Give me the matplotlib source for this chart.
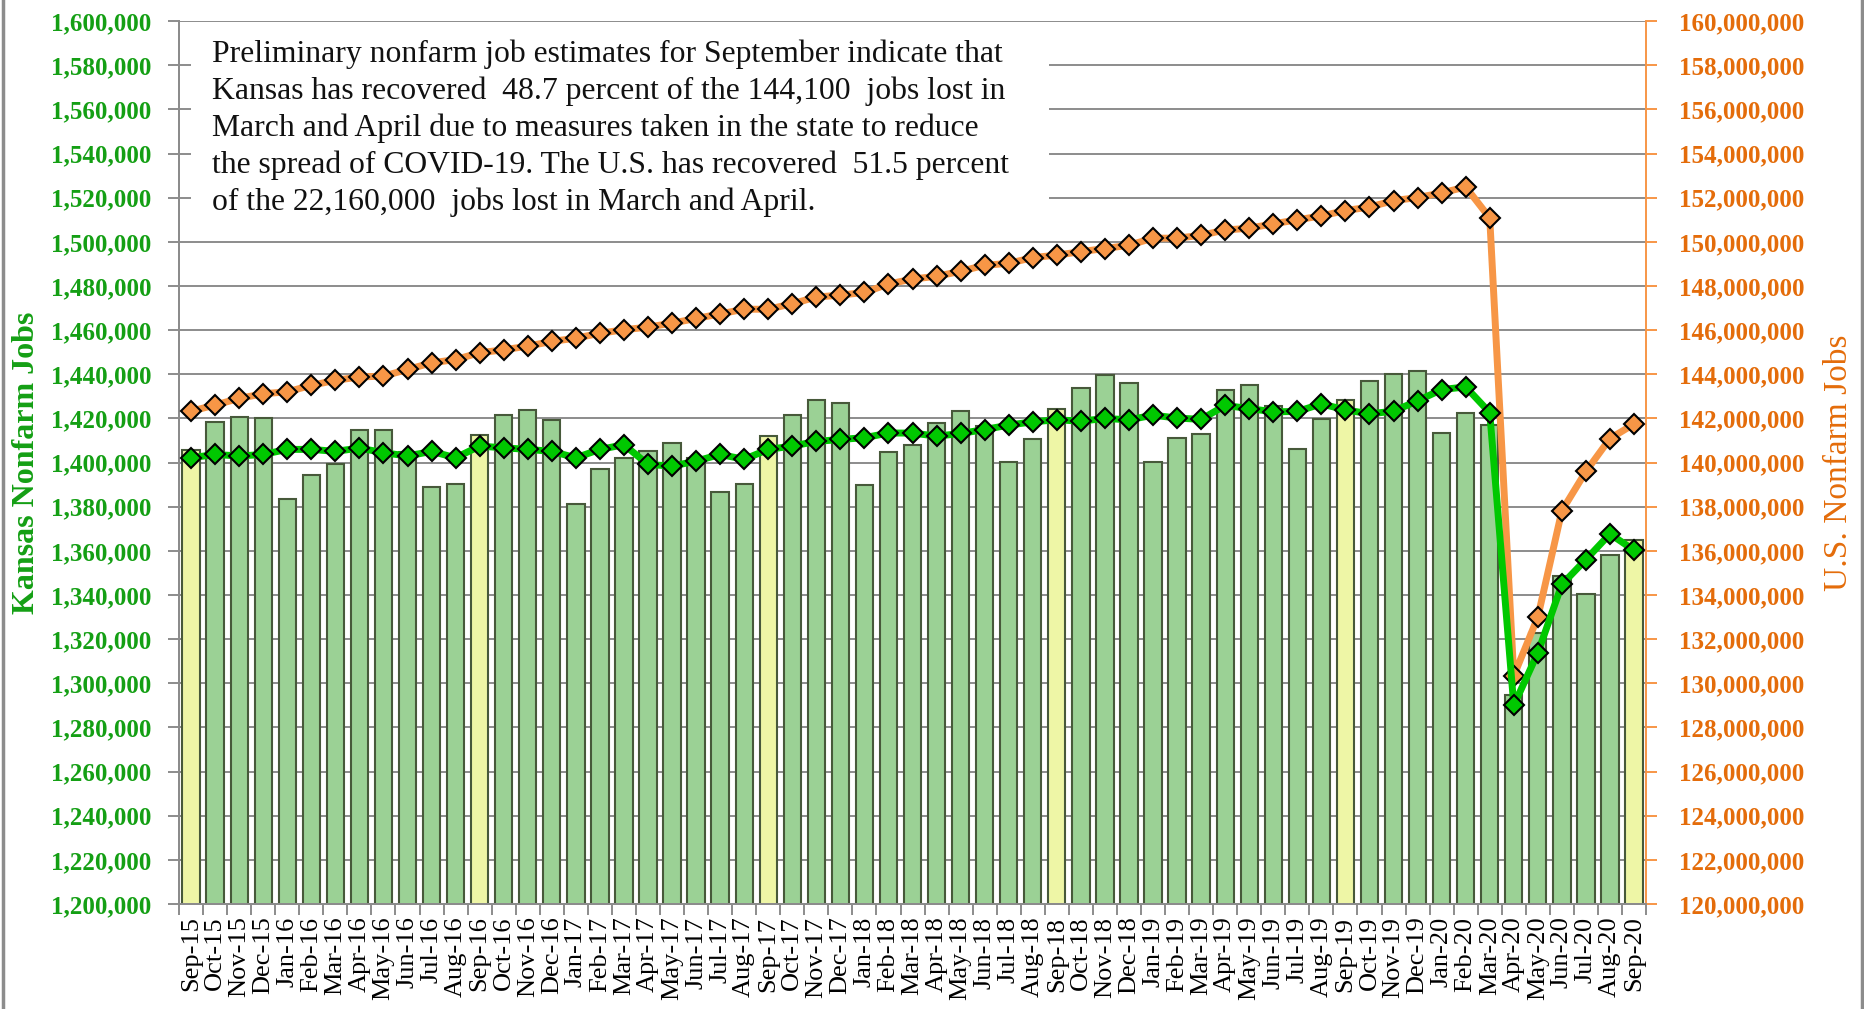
import matplotlib
matplotlib.use('Agg')
import matplotlib.pyplot as plt
from matplotlib.patches import Rectangle
from matplotlib.lines import Line2D
from matplotlib.ticker import FuncFormatter, MultipleLocator
import numpy as np

# months Sep-15 .. Sep-20
months = ['Sep-15', 'Oct-15', 'Nov-15', 'Dec-15',
          'Jan-16', 'Feb-16', 'Mar-16', 'Apr-16', 'May-16', 'Jun-16',
          'Jul-16', 'Aug-16', 'Sep-16', 'Oct-16', 'Nov-16', 'Dec-16',
          'Jan-17', 'Feb-17', 'Mar-17', 'Apr-17', 'May-17', 'Jun-17',
          'Jul-17', 'Aug-17', 'Sep-17', 'Oct-17', 'Nov-17', 'Dec-17',
          'Jan-18', 'Feb-18', 'Mar-18', 'Apr-18', 'May-18', 'Jun-18',
          'Jul-18', 'Aug-18', 'Sep-18', 'Oct-18', 'Nov-18', 'Dec-18',
          'Jan-19', 'Feb-19', 'Mar-19', 'Apr-19', 'May-19', 'Jun-19',
          'Jul-19', 'Aug-19', 'Sep-19', 'Oct-19', 'Nov-19', 'Dec-19',
          'Jan-20', 'Feb-20', 'Mar-20', 'Apr-20', 'May-20', 'Jun-20',
          'Jul-20', 'Aug-20', 'Sep-20']

# Kansas nonfarm jobs, not seasonally adjusted (bars)
kansas_nsa = [1405900, 1418600, 1420700, 1420100,
              1383400, 1394200, 1399600, 1415000, 1415000, 1404800,
              1389000, 1390500, 1412700, 1421600, 1423900, 1419500,
              1381300, 1397200, 1402300, 1405300, 1408900, 1402300,
              1386800, 1390500, 1412000, 1421800, 1428600, 1427100,
              1389800, 1404800, 1407800, 1418000, 1423300, 1416800,
              1400200, 1410800, 1424100, 1433600, 1439600, 1435900,
              1400200, 1411300, 1412800, 1432800, 1435000, 1425600,
              1406300, 1419600, 1428200, 1437200, 1440000, 1441300,
              1413200, 1422700, 1417000, 1294800, 1323000, 1348500,
              1340500, 1358000, 1364800]

# Kansas nonfarm jobs, seasonally adjusted (green line)
kansas_sa = [1402200, 1403700, 1403000, 1403700,
             1406000, 1406000, 1405100, 1406600, 1404500, 1403000,
             1405100, 1402200, 1407500, 1406700, 1406000, 1405100,
             1402200, 1406000, 1408100, 1399200, 1398400, 1400700,
             1403700, 1401500, 1406000, 1407500, 1409600, 1410500,
             1411300, 1413400, 1413400, 1412000, 1413200, 1415000,
             1417000, 1418500, 1419400, 1418800, 1420000, 1419400,
             1421500, 1420200, 1419600, 1425900, 1424500, 1423000,
             1423200, 1426600, 1423900, 1422100, 1423300, 1428000,
             1433100, 1434300, 1422700, 1290000, 1313800, 1344800,
             1356100, 1367700, 1360300]

# U.S. nonfarm jobs (orange line)
us_jobs = [142330000, 142610000, 142910000, 143120000,
           143210000, 143500000, 143730000, 143880000, 143920000, 144220000,
           144520000, 144670000, 144980000, 145110000, 145280000, 145490000,
           145640000, 145860000, 146020000, 146140000, 146320000, 146530000,
           146740000, 146950000, 146950000, 147200000, 147500000, 147590000,
           147710000, 148090000, 148320000, 148440000, 148670000, 148940000,
           149030000, 149290000, 149400000, 149560000, 149700000, 149850000,
           150170000, 150170000, 150300000, 150540000, 150620000, 150820000,
           151000000, 151180000, 151420000, 151580000, 151870000, 152010000,
           152220000, 152490000, 151090000, 130340000, 133000000, 137820000,
           139600000, 141090000, 141750000]

note = ("Preliminary nonfarm job estimates for September indicate that\n"
        "Kansas has recovered  48.7 percent of the 144,100  jobs lost in\n"
        "March and April due to measures taken in the state to reduce\n"
        "the spread of COVID-19. The U.S. has recovered  51.5 percent\n"
        "of the 22,160,000  jobs lost in March and April.")

SERIF = ['Liberation Serif', 'DejaVu Serif']
GREEN_TXT = '#149F14'
ORANGE_TXT = '#E46C0A'
GRID = '#8C8C8C'

fig = plt.figure(figsize=(18.65, 10.09), dpi=100)
ax = fig.add_axes([0.096, 0.104, 0.7866, 0.875])
ax2 = ax.twinx()

x = np.arange(len(months))
bar_colors = ['#EEF6A6' if m.startswith('Sep') else '#9BD195' for m in months]
ax.bar(x, kansas_nsa, width=0.72, color=bar_colors, edgecolor='#47593A',
       linewidth=1.5, zorder=2)

ax.set_xlim(-0.5, len(months) - 0.5)
ax.set_ylim(1200000, 1600000)
ax2.set_ylim(120000000, 160000000)

ax.yaxis.set_major_locator(MultipleLocator(20000))
ax2.yaxis.set_major_locator(MultipleLocator(2000000))
fmt = FuncFormatter(lambda v, p: f'{v:,.0f}')
ax.yaxis.set_major_formatter(fmt)
ax2.yaxis.set_major_formatter(fmt)

ax.set_axisbelow(True)
ax.grid(axis='y', color=GRID, linewidth=1.4)

# U.S. line on the right axis, Kansas SA line drawn above it
ax2.plot(x, us_jobs, color='#F79646', linewidth=5, marker='D', markersize=10,
         markerfacecolor='#F79646', markeredgecolor='black',
         markeredgewidth=1.5, zorder=3)
ax2.plot(x, kansas_sa, transform=ax.transData, color='#00C800', linewidth=5,
         marker='D', markersize=10, markerfacecolor='#00C800',
         markeredgecolor='black', markeredgewidth=1.5, zorder=4)

# ticks and labels
ax.set_xticks(x)
ax.set_xticklabels(months, rotation=90, fontsize=19, family=SERIF)
ax.set_xticks(np.arange(len(months) + 1) - 0.5, minor=True)
ax.tick_params(axis='x', which='major', length=0, pad=9)
ax.tick_params(axis='x', which='minor', length=8, color=GRID, width=1.4)

ax.tick_params(axis='y', length=8, color=GRID, width=1.4, pad=12,
               labelsize=18, labelcolor=GREEN_TXT)
for lab in ax.get_yticklabels():
    lab.set_family(SERIF)
    lab.set_fontweight('bold')
ax2.tick_params(axis='y', length=8, color='#F79646', width=1.4, pad=16,
                labelsize=18, labelcolor=ORANGE_TXT)
for lab in ax2.get_yticklabels():
    lab.set_family(SERIF)
    lab.set_fontweight('bold')

ax.set_ylabel('Kansas Nonfarm Jobs', fontsize=23, family=SERIF,
              fontweight='bold', color=GREEN_TXT)
ax.yaxis.set_label_coords(-0.094, 0.5)
ax2.set_ylabel('U.S. Nonfarm Jobs', fontsize=24, family=SERIF,
               color=ORANGE_TXT, rotation=90)
ax2.yaxis.set_label_coords(1.121, 0.5)

for a in (ax, ax2):
    a.spines['top'].set_visible(False)
    a.spines['left'].set_color(GRID)
    a.spines['bottom'].set_color(GRID)
    a.spines['left'].set_linewidth(1.4)
    a.spines['bottom'].set_linewidth(1.4)
ax2.spines['right'].set_color('#F79646')
ax2.spines['right'].set_linewidth(1.4)
ax.spines['right'].set_visible(False)

# white note box covering the top gridlines
ax2.add_patch(Rectangle((0.008, 0.758), 0.585, 0.234, transform=ax2.transAxes,
                        facecolor='white', edgecolor='none', zorder=5))
ax2.text(0.0225, 0.979, note, transform=ax2.transAxes, ha='left', va='top',
         fontsize=22.8, family=SERIF, color='#111111', linespacing=1.33,
         zorder=6)

# chart border sides
fig.add_artist(Line2D([0.0017, 0.0017], [0, 1], color='#8C8C8C', linewidth=2.5))
fig.add_artist(Line2D([0.9985, 0.9985], [0, 1], color='#8C8C8C', linewidth=2.5))

fig.savefig('out.png', dpi=100)
